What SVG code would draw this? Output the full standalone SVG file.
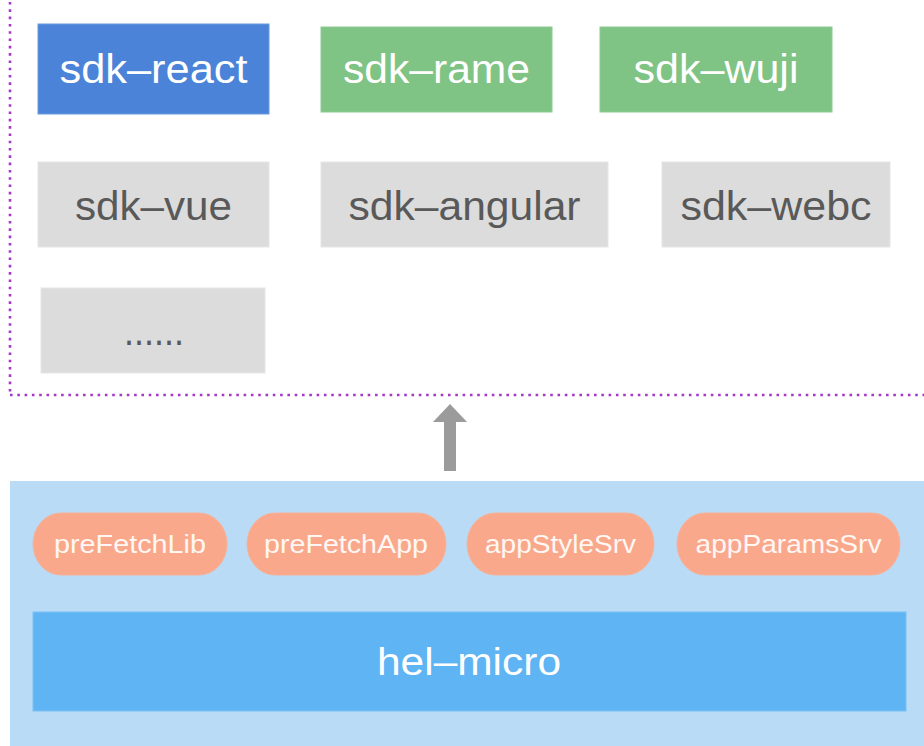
<svg xmlns="http://www.w3.org/2000/svg" width="924" height="746" viewBox="0 0 924 746">
<style>
text{font-family:"Liberation Sans",Arial,sans-serif;text-anchor:middle}
.big{font-size:40px}
.w{fill:#ffffff}
.g{fill:#595959}
.gray{fill:#dcdcdc;stroke:#e6e6e6;stroke-width:1}
.green{fill:#7fc485;stroke:#8dcc92;stroke-width:1}
.pill{fill:#faa88b;stroke:#f6b29a;stroke-width:1}
.pt{font-size:26px;fill:#fff7f3}
.dot{fill:none;stroke:#a638c8;stroke-width:2.6;stroke-dasharray:2.6 4.7}
</style>
<g id="frame">
<line class="dot" x1="10" y1="2" x2="10" y2="395"/>
<line class="dot" x1="10" y1="395" x2="924" y2="395"/>
</g>
<g id="sdk-react"><rect x="38" y="24" width="231" height="90" fill="#4a83d8" stroke="#6b9be0"/><text class="big w" x="153.5" y="83" textLength="188" lengthAdjust="spacingAndGlyphs">sdk–react</text></g>
<g id="sdk-rame"><rect class="green" x="321" y="27" width="231" height="85"/><text class="big w" x="436.5" y="83" textLength="187" lengthAdjust="spacingAndGlyphs">sdk–rame</text></g>
<g id="sdk-wuji"><rect class="green" x="600" y="27" width="232" height="85"/><text class="big w" x="716" y="83" textLength="165" lengthAdjust="spacingAndGlyphs">sdk–wuji</text></g>
<g id="sdk-vue"><rect class="gray" x="38" y="162" width="231" height="85"/><text class="big g" x="153.5" y="220" textLength="157" lengthAdjust="spacingAndGlyphs">sdk–vue</text></g>
<g id="sdk-angular"><rect class="gray" x="321" y="162" width="287" height="85"/><text class="big g" x="464.5" y="220" textLength="232" lengthAdjust="spacingAndGlyphs">sdk–angular</text></g>
<g id="sdk-webc"><rect class="gray" x="662" y="162" width="228" height="85"/><text class="big g" x="776" y="220" textLength="191" lengthAdjust="spacingAndGlyphs">sdk–webc</text></g>
<g id="more"><rect class="gray" x="41" y="288" width="224" height="85"/><text class="big g" x="154" y="345" textLength="60" lengthAdjust="spacingAndGlyphs">......</text></g>
<g id="connectors">
<polygon points="450,404 467,422 456,422 456,471 444,471 444,422 433,422" fill="#9b9b9b"/>
</g>
<g id="platform"><rect x="10" y="481" width="914" height="265" fill="#b9dbf5"/></g>
<g id="preFetchLib"><rect class="pill" x="33" y="513" width="194" height="62" rx="28" ry="31"/><text class="pt" x="130" y="553" textLength="152" lengthAdjust="spacingAndGlyphs">preFetchLib</text></g>
<g id="preFetchApp"><rect class="pill" x="247" y="513" width="199" height="62" rx="28" ry="31"/><text class="pt" x="346" y="553" textLength="164" lengthAdjust="spacingAndGlyphs">preFetchApp</text></g>
<g id="appStyleSrv"><rect class="pill" x="467" y="513" width="187" height="62" rx="28" ry="31"/><text class="pt" x="560.5" y="553" textLength="151" lengthAdjust="spacingAndGlyphs">appStyleSrv</text></g>
<g id="appParamsSrv"><rect class="pill" x="677" y="513" width="223" height="62" rx="28" ry="31"/><text class="pt" x="788.5" y="553" textLength="186" lengthAdjust="spacingAndGlyphs">appParamsSrv</text></g>
<g id="hel-micro"><rect x="33" y="612" width="873" height="99" fill="#5fb4f4" stroke="#7cc1f3"/><text class="w" x="469" y="675" font-size="38" textLength="184" lengthAdjust="spacingAndGlyphs">hel–micro</text></g>
</svg>
